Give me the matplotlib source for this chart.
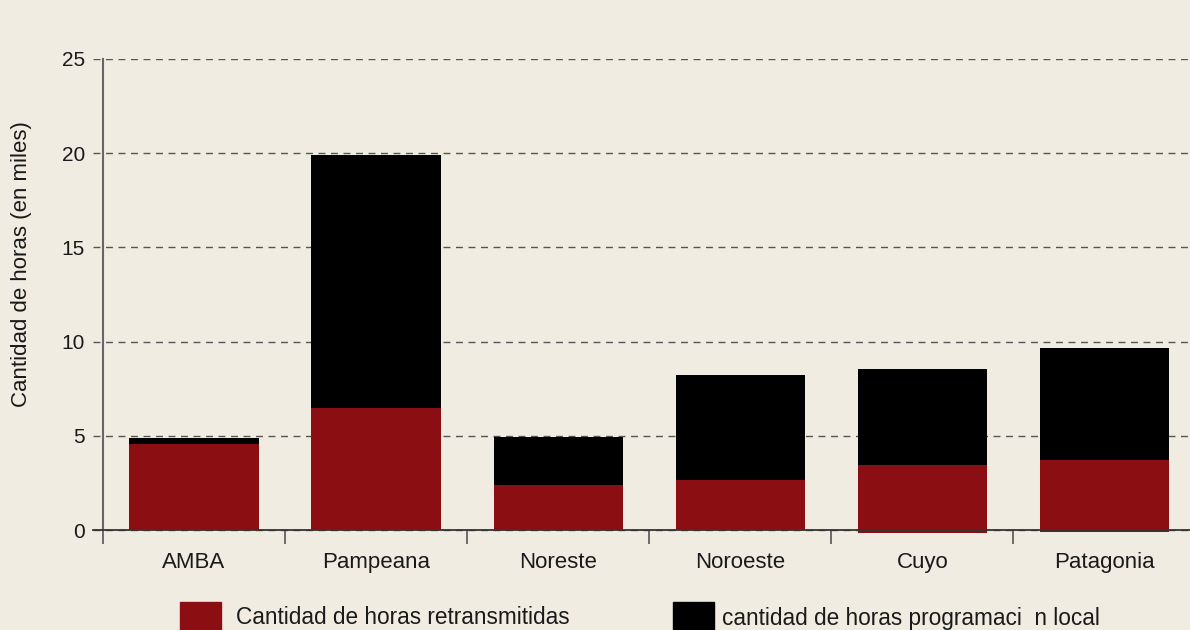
import matplotlib
matplotlib.use("Agg")
import matplotlib.pyplot as plt
from matplotlib.patches import Rectangle

# data (miles de horas)
regiones = ["AMBA", "Pampeana", "Noreste", "Noroeste", "Cuyo", "Patagonia"]
retransmitidas = [4.54, 6.46, 2.39, 2.65, 3.59, 3.81]
locales = [0.35, 13.43, 2.55, 5.58, 5.10, 5.94]
base = [0, 0, 0, 0, -0.14, -0.09]  # the last two red bars dip a bit under zero in the original

bg = "#f0ece2"
rojo = "#8b0e13"
plt.rcParams["font.family"] = ["Liberation Sans", "DejaVu Sans"]

fig = plt.figure(figsize=(11.9, 6.3), dpi=100, facecolor=bg)
ax = fig.add_axes([93 / 1190, 1 - 533.8 / 630, 1097 / 1190, 474.8 / 630], facecolor=bg)

x = list(range(len(regiones)))
tope_rojo = [b + r for b, r in zip(base, retransmitidas)]
ax.bar(x, retransmitidas, bottom=base, width=0.71, color=rojo, zorder=3)
ax.bar(x, locales, bottom=tope_rojo, width=0.71, color="black", zorder=3)

ax.set_xlim(-0.555, 5.47)
ax.set_ylim(-0.2, 25)
ax.set_yticks([0, 5, 10, 15, 20, 25])
ax.grid(axis="y", linestyle=(0, (5, 4)), color="#555555", linewidth=1, zorder=0)

for s in ["top", "right"]:
    ax.spines[s].set_visible(False)
ax.spines["left"].set_position(("data", -0.5))
ax.spines["left"].set_bounds(0, 25)
ax.spines["bottom"].set_position(("data", 0))
ax.spines["left"].set_color("#666666")
ax.spines["bottom"].set_color("#333333")
ax.spines["left"].set_linewidth(1.5)
ax.spines["bottom"].set_linewidth(1.3)
ax.spines["left"].set_zorder(4)
ax.spines["bottom"].set_zorder(4)

# category labels centred on bars, ticks between them
ax.set_xticks([i - 0.5 for i in x], minor=False)
ax.set_xticklabels([])
ax.set_xticks(x, minor=True)
ax.set_xticklabels(regiones, minor=True, fontsize=16, color="#1a1a1a")
ax.tick_params(axis="x", which="major", direction="out", length=10, width=1.2, color="#555555")
ax.tick_params(axis="x", which="minor", length=0, pad=16)
ax.tick_params(axis="y", length=0, pad=13, labelsize=15, labelcolor="#1a1a1a")

ax.set_ylabel("Cantidad de horas (en miles)", fontsize=16, color="#1a1a1a")
ax.yaxis.set_label_coords(-0.056, 0.568)

# legend drawn by hand, squares run off the bottom edge like the original
fig.add_artist(Rectangle((180 / 1190, -0.05), 41 / 1190, 0.05 + 28 / 630,
                         transform=fig.transFigure, color=rojo))
fig.text(236 / 1190, 12 / 630, "Cantidad de horas retransmitidas", fontsize=16.3,
         color="#1a1a1a", va="center")
fig.add_artist(Rectangle((673 / 1190, -0.05), 41 / 1190, 0.05 + 28 / 630,
                         transform=fig.transFigure, color="black"))
fig.text(722 / 1190, 12 / 630, "cantidad de horas programaci  n local", fontsize=16.3,
         color="#1a1a1a", va="center")

fig.savefig("out.png", dpi=100, facecolor=bg)
